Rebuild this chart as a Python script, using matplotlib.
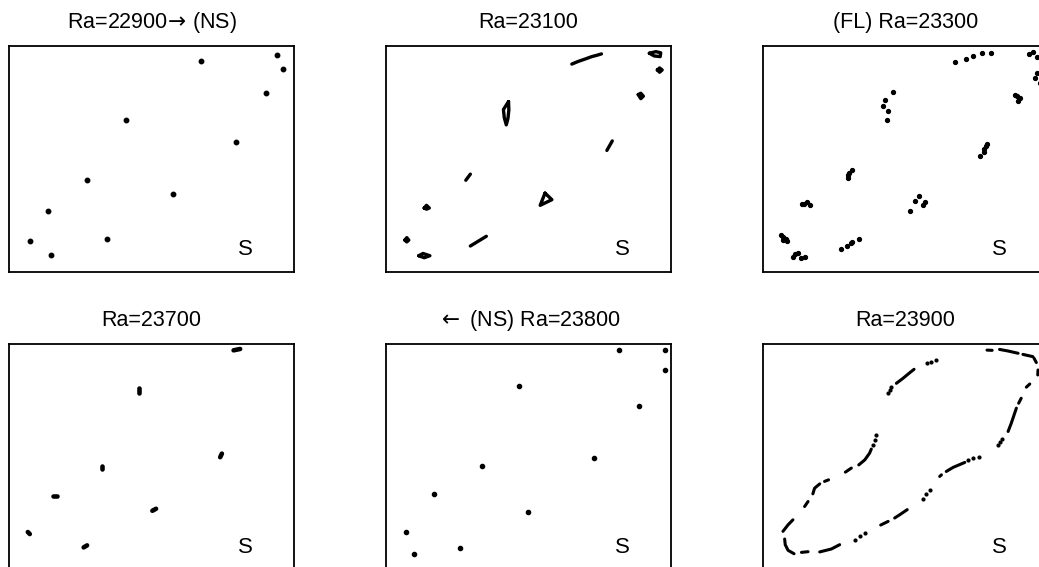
import matplotlib
matplotlib.use("Agg")
import matplotlib.pyplot as plt

plt.rcParams['font.family'] = ['Liberation Sans', 'DejaVu Sans']
plt.rcParams['mathtext.fontset'] = 'dejavusans'

titles = ['Ra=22900$\\!\\rightarrow\\!$ (NS)', 'Ra=23100', '(FL) Ra=23300',
          'Ra=23700', '$\\leftarrow$ (NS) Ra=23800', 'Ra=23900']

# Ra=22900: period-12 points
p1_x = [0.674, 0.940, 0.963, 0.902, 0.409, 0.797, 0.273, 0.577, 0.136, 0.343, 0.073, 0.148]
p1_y = [0.935, 0.959, 0.897, 0.794, 0.672, 0.574, 0.408, 0.343, 0.272, 0.147, 0.135, 0.074]

# Ra=23100: small loops / arcs
p2_curves = [
    ([0.652, 0.675, 0.698, 0.722, 0.740, 0.756], [0.920, 0.932, 0.942, 0.953, 0.959, 0.965]),
    ([0.924, 0.947, 0.964, 0.962, 0.941, 0.924], [0.968, 0.975, 0.970, 0.953, 0.956, 0.968]),
    ([0.952, 0.960, 0.969, 0.960, 0.952], [0.894, 0.903, 0.894, 0.884, 0.894]),
    ([0.885, 0.894, 0.903, 0.894, 0.885], [0.785, 0.791, 0.778, 0.767, 0.785]),
    ([0.430, 0.412, 0.415, 0.422, 0.428, 0.431, 0.430], [0.754, 0.719, 0.683, 0.651, 0.680, 0.717, 0.754]),
    ([0.775, 0.794], [0.538, 0.580]),
    ([0.280, 0.296], [0.406, 0.433]),
    ([0.558, 0.582, 0.541, 0.558], [0.349, 0.320, 0.295, 0.349]),
    ([0.134, 0.142, 0.152, 0.142, 0.134], [0.283, 0.295, 0.283, 0.278, 0.283]),
    ([0.296, 0.352], [0.115, 0.158]),
    ([0.066, 0.073, 0.080, 0.073, 0.066], [0.141, 0.152, 0.141, 0.133, 0.141]),
    ([0.115, 0.130, 0.154, 0.134, 0.115], [0.072, 0.082, 0.072, 0.063, 0.072]),
]

# Ra=23300: scattered clusters
p3_x = [0.675, 0.713, 0.738, 0.767, 0.799,
        0.933, 0.947, 0.961, 0.961, 0.954, 0.972,
        0.883, 0.890, 0.903, 0.895,
        0.455, 0.427, 0.422, 0.440, 0.434,
        0.760, 0.775, 0.777, 0.781, 0.786,
        0.298, 0.299, 0.303, 0.312,
        0.515, 0.532, 0.547, 0.563, 0.567,
        0.138, 0.144, 0.153, 0.165,
        0.273, 0.294, 0.309, 0.313, 0.337,
        0.064, 0.071, 0.070, 0.082, 0.083,
        0.104, 0.113, 0.124, 0.135, 0.149]
p3_y = [0.928, 0.941, 0.957, 0.969, 0.969,
        0.965, 0.973, 0.951, 0.881, 0.858, 0.836,
        0.781, 0.778, 0.772, 0.756,
        0.795, 0.763, 0.735, 0.711, 0.672,
        0.514, 0.530, 0.545, 0.558, 0.566,
        0.418, 0.430, 0.439, 0.452,
        0.271, 0.312, 0.336, 0.295, 0.308,
        0.299, 0.299, 0.311, 0.297,
        0.103, 0.113, 0.127, 0.134, 0.147,
        0.165, 0.155, 0.143, 0.146, 0.137,
        0.068, 0.081, 0.082, 0.063, 0.066]

# Ra=23700: short elongated marks
p4_marks = [
    ([0.788, 0.811], [0.972, 0.978]),
    ([0.973, 0.973], [0.975, 0.975]),
    ([0.979, 0.979], [0.885, 0.885]),
    ([0.890, 0.890], [0.741, 0.741]),
    ([0.456, 0.456], [0.807, 0.782]),
    ([0.741, 0.747], [0.499, 0.515]),
    ([0.328, 0.328], [0.462, 0.448]),
    ([0.156, 0.170], [0.327, 0.327]),
    ([0.503, 0.516], [0.262, 0.271]),
    ([0.066, 0.073], [0.168, 0.159]),
    ([0.262, 0.274], [0.100, 0.109]),
    ([0.103, 0.103], [0.071, 0.071]),
]

# Ra=23800: period-12 points again
p5_x = [0.818, 0.978, 0.980, 0.888, 0.467, 0.729, 0.337, 0.167, 0.498, 0.071, 0.258, 0.098]
p5_y = [0.972, 0.975, 0.884, 0.725, 0.814, 0.496, 0.462, 0.336, 0.258, 0.166, 0.099, 0.071]

# Ra=23900: one big loop, seen as dashes and dots
p6_dashes = [
    ([0.070, 0.088, 0.105], [0.171, 0.200, 0.222]),
    ([0.146, 0.158], [0.281, 0.303]),
    ([0.175, 0.181, 0.199], [0.337, 0.362, 0.381]),
    ([0.216, 0.230], [0.392, 0.399]),
    ([0.289, 0.310], [0.433, 0.451]),
    ([0.336, 0.357, 0.374, 0.380], [0.465, 0.487, 0.517, 0.535]),
    ([0.468, 0.491, 0.515, 0.530], [0.826, 0.848, 0.873, 0.888]),
    ([0.786, 0.804], [0.973, 0.972]),
    ([0.830, 0.860, 0.895], [0.976, 0.969, 0.959]),
    ([0.912, 0.947], [0.954, 0.944]),
    ([0.951, 0.959], [0.937, 0.918]),
    ([0.965, 0.964], [0.885, 0.863]),
    ([0.936, 0.924], [0.823, 0.809]),
    ([0.906, 0.897], [0.760, 0.738]),
    ([0.889, 0.871, 0.860], [0.716, 0.649, 0.613]),
    ([0.708, 0.667, 0.643], [0.476, 0.454, 0.436]),
    ([0.626, 0.620], [0.421, 0.414]),
    ([0.506, 0.485, 0.462], [0.267, 0.249, 0.230]),
    ([0.439, 0.413], [0.215, 0.199]),
    ([0.269, 0.240, 0.199], [0.112, 0.093, 0.080]),
    ([0.158, 0.135], [0.081, 0.078]),
    ([0.109, 0.088, 0.078, 0.076], [0.072, 0.087, 0.112, 0.137]),
]
p6_dots_x = [0.386, 0.392, 0.398, 0.439, 0.444, 0.450, 0.577, 0.591, 0.608,
             0.839, 0.832, 0.825, 0.757, 0.737, 0.719, 0.585, 0.573, 0.561,
             0.357, 0.339, 0.322]
p6_dots_y = [0.554, 0.576, 0.598, 0.782, 0.797, 0.811, 0.915, 0.922, 0.929,
             0.579, 0.567, 0.554, 0.502, 0.495, 0.485, 0.355, 0.337, 0.314,
             0.163, 0.149, 0.134]

fig = plt.figure(figsize=(10.39, 5.67), dpi=100)
W, H = 1039.0, 567.0
lefts = [9, 386, 763]
bottoms = [567 - 272, 567 - 570]
aw, ah = 285 / W, 226 / H

axes = []
for r in range(2):
    for c in range(3):
        ax = fig.add_axes([lefts[c] / W, bottoms[r] / H, aw, ah])
        ax.set_xlim(0, 1)
        ax.set_ylim(0, 1)
        ax.set_xticks([])
        ax.set_yticks([])
        for s in ax.spines.values():
            s.set_linewidth(1.3)
        axes.append(ax)

for ax, t in zip(axes, titles):
    ax.set_title(t, fontsize=15.5, pad=13)
    ax.text(0.83, 0.10, 'S', fontsize=16, ha='center', va='center', transform=ax.transAxes)

axes[0].plot(p1_x, p1_y, 'o', color='k', ms=3.2)

for xs, ys in p2_curves:
    axes[1].plot(xs, ys, '-', color='k', lw=2.4, solid_capstyle='round', solid_joinstyle='round')

axes[2].plot(p3_x, p3_y, 'o', color='k', ms=2.8)

for xs, ys in p4_marks:
    axes[3].plot(xs, ys, '-', color='k', lw=3.3, solid_capstyle='round')

axes[4].plot(p5_x, p5_y, 'o', color='k', ms=3.0)

for xs, ys in p6_dashes:
    axes[5].plot(xs, ys, '-', color='k', lw=2.2, solid_capstyle='round')
axes[5].plot(p6_dots_x, p6_dots_y, 'o', color='k', ms=2.0)

fig.savefig('out.png', dpi=100)
